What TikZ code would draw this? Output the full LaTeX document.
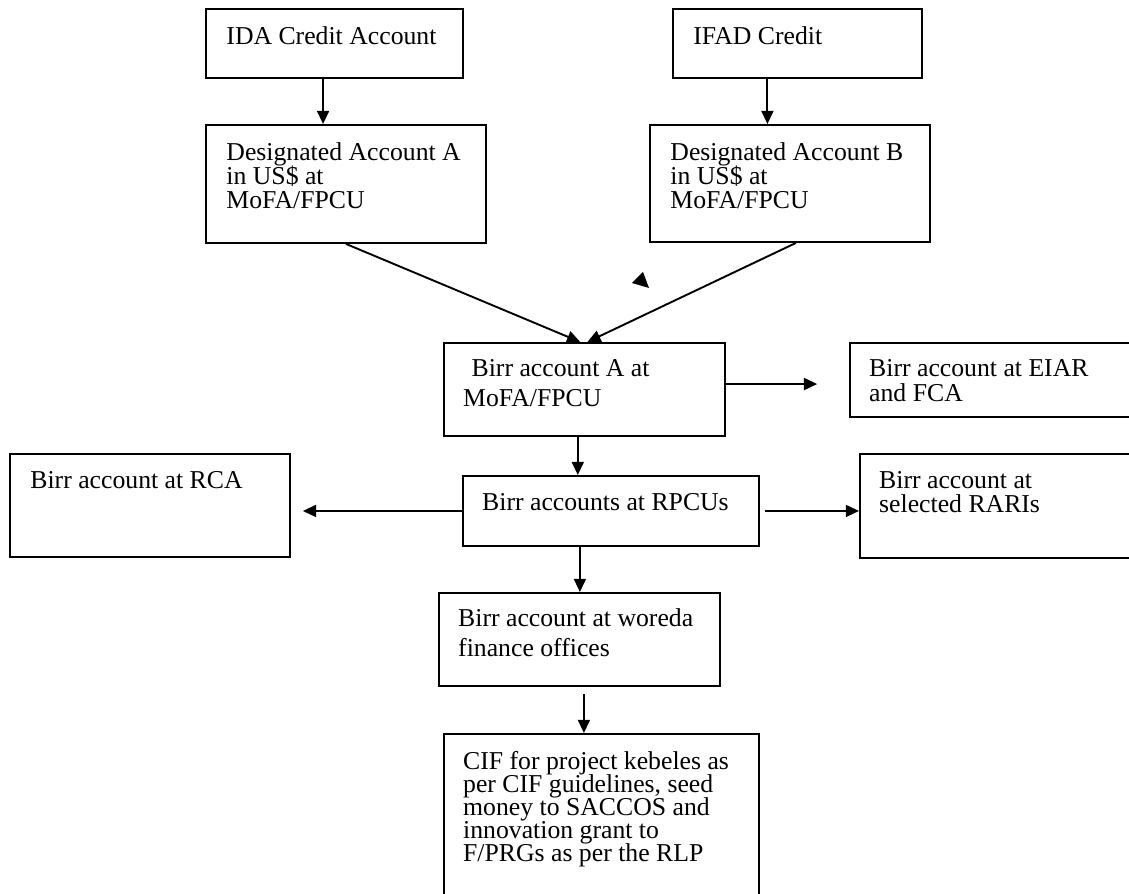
\documentclass[tikz,border=0pt]{standalone}
\usepackage{fontspec}
\setmainfont{Liberation Serif}
\usetikzlibrary{arrows.meta,calc}
\lineskiplimit=-8pt

\begin{document}
\begin{tikzpicture}[
    box/.style={draw,line width=0.9pt,anchor=north west,inner sep=0pt},
    txt/.style={anchor=north west,inner sep=0pt,align=left,
                font=\fontsize{12.2}{#1}\selectfont},
    txt/.default=11.4,
    flow/.style={-{Triangle[length=0.22cm,width=0.2cm]},line width=0.9pt},
  ]
  \useasboundingbox (0,0) rectangle (18.817,-14.9);

    % Accounts
    \node[box,minimum width=4.283cm,minimum height=1.15cm]  (ida)    at (3.417,-0.133)  {};
    \node[box,minimum width=4.15cm,minimum height=1.15cm]   (ifad)   at (11.2,-0.133)   {};
    \node[box,minimum width=4.667cm,minimum height=1.967cm] (desA)   at (3.417,-2.067)  {};
    \node[box,minimum width=4.667cm,minimum height=1.95cm]  (desB)   at (10.817,-2.067) {};
    \node[box,minimum width=4.683cm,minimum height=1.55cm]  (birrA)  at (7.383,-5.7)    {};
    \node[box,minimum width=4.8cm,minimum height=1.233cm]   (eiar)   at (14.15,-5.7)    {};
    \node[box,minimum width=4.933cm,minimum height=1.167cm] (rpcu)   at (7.7,-7.917)    {};
    \node[box,minimum width=4.667cm,minimum height=1.717cm] (rca)    at (0.15,-7.55)    {};
    \node[box,minimum width=4.65cm,minimum height=1.733cm]  (rari)   at (14.317,-7.55)  {};
    \node[box,minimum width=4.683cm,minimum height=1.55cm]  (woreda) at (7.3,-9.867)    {};
    \node[box,minimum width=5.25cm,minimum height=2.8cm]    (cif)    at (7.383,-12.217) {};

    % Texts
    \node[txt] (idaT)    at ([shift={(0.35,-0.3)}]ida.north west)    {IDA Credit Account};
    \node[txt] (ifadT)   at ([shift={(0.35,-0.3)}]ifad.north west)   {IFAD Credit};
    \node[txt] (desAT)   at ([shift={(0.35,-0.3)}]desA.north west)
      {Designated Account A\\in US\$ at\\MoFA/FPCU};
    \node[txt] (desBT)   at ([shift={(0.35,-0.3)}]desB.north west)
      {Designated Account B\\in US\$ at\\MoFA/FPCU};
    \node[txt=14.2] (birrAT) at ([shift={(0.33,-0.28)}]birrA.north west)
      {\hspace*{4pt}Birr account A at\\MoFA/FPCU};
    \node[txt=11.9] (eiarT)  at ([shift={(0.33,-0.28)}]eiar.north west)
      {Birr account at EIAR\\and FCA};
    \node[txt] (rpcuT)   at ([shift={(0.33,-0.3)}]rpcu.north west)   {Birr accounts at RPCUs};
    \node[txt] (rcaT)    at ([shift={(0.35,-0.3)}]rca.north west)    {Birr account at RCA};
    \node[txt] (rariT)   at ([shift={(0.33,-0.3)}]rari.north west)
      {Birr account at\\selected RARIs};
    \node[txt=14.2] (woredaT) at ([shift={(0.33,-0.27)}]woreda.north west)
      {Birr account at woreda\\finance offices};
    \node[txt=10.9] (cifT)   at ([shift={(0.33,-0.3)}]cif.north west)
      {CIF for project kebeles as\\per CIF guidelines, seed\\money to SACCOS and\\innovation grant to\\F/PRGs as per the RLP};

    % Flows
    \draw[flow] ([xshift=-0.19cm]ida.south) -- ([xshift=-0.19cm]ida.south |- desA.north);
    \draw[flow] ([xshift=-0.5cm]ifad.south) -- ([xshift=-0.5cm]ifad.south |- desB.north);
    \draw[flow] (desA.south) -- ([xshift=-0.07cm]birrA.north);
    \draw[flow] ([xshift=0.1cm]desB.south) -- ([xshift=0.05cm]birrA.north);
    \fill (10.533,-4.717) -- (10.717,-4.533) -- (10.817,-4.8) -- cycle;
    \draw[flow,shorten >=0.53cm] ([yshift=0.09cm]birrA.east) -- ([yshift=0.09cm]birrA.east -| eiar.west);
    \draw[flow] ([xshift=-0.11cm]birrA.south) -- ([xshift=-0.11cm]birrA.south |- rpcu.north);
    \draw[flow,shorten >=0.2cm] (rpcu.west) -- (rpcu.west -| rca.east);
    \draw[flow,shorten <=0.08cm] (rpcu.east) -- (rpcu.east -| rari.west);
    \draw[flow] ([xshift=-0.517cm]rpcu.south) -- ([xshift=-0.517cm]rpcu.south |- woreda.north);
    \draw[flow,shorten <=0.12cm] ([xshift=0.075cm]woreda.south) -- ([xshift=0.075cm]woreda.south |- cif.north);

  \end{tikzpicture}
\end{document}
